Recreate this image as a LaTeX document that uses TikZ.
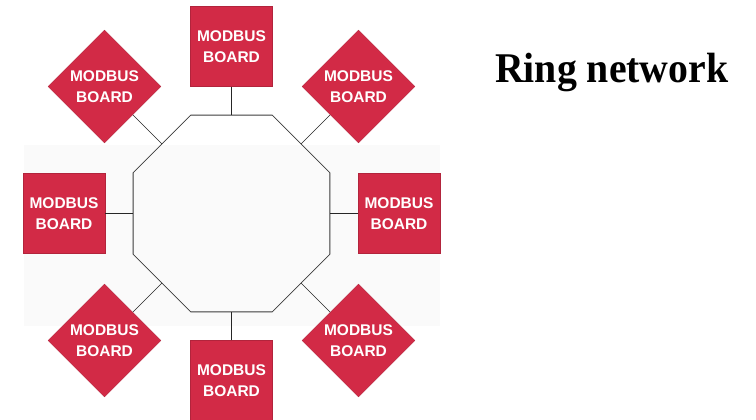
\documentclass[tikz,border=0pt]{standalone}
\usepackage{fontspec}
\usepackage{graphicx}
\newfontfamily\boardfont{Liberation Sans}
\newfontfamily\titlefont{Liberation Serif}
\usetikzlibrary{shapes.geometric}
\definecolor{mbred}{RGB}{210,42,70}
\definecolor{ringgray}{RGB}{60,60,60}

\begin{document}
\begin{tikzpicture}[x=1pt,y=1pt,every node/.style={align=center},
    board/.style={draw=mbred!85!black,line width=0.4pt,fill=mbred,text=white,inner sep=0pt,font=\boardfont\bfseries\fontsize{15.5}{21.5}\selectfont},
    boardbox/.style={board,rectangle,minimum width=82pt,minimum height=80pt},
    boarddia/.style={board,diamond,minimum size=113pt},
    link/.style={line width=0.7pt,black!85}]
    \useasboundingbox (0,0) rectangle (756,-420);
    \fill[black!2] (24,-145) rectangle (440,-326);
    \node[draw=ringgray,line width=0.8pt,regular polygon,regular polygon sides=8,minimum size=213pt,inner sep=0pt,outer sep=0pt] (ring) at (231.5,-213.5) {};
    \node[boardbox] (n) at (231.5,-46.5) {MODBUS\\BOARD};
    \node[boardbox] (s) at (231.5,-380.5) {MODBUS\\BOARD};
    \node[boardbox] (w) at (64,-213.5) {MODBUS\\BOARD};
    \node[boardbox] (e) at (399,-213.5) {MODBUS\\BOARD};
    \node[boarddia] (nw) at (104.5,-86.5) {MODBUS\\BOARD};
    \node[boarddia] (ne) at (358.5,-86.5) {MODBUS\\BOARD};
    \node[boarddia] (sw) at (104.5,-340.5) {MODBUS\\BOARD};
    \node[boarddia] (se) at (358.5,-340.5) {MODBUS\\BOARD};
    \draw[link] (n)--(ring);
    \draw[link] (s)--(ring);
    \draw[link] (w)--(ring);
    \draw[link] (e)--(ring);
    \draw[link] (nw)--(ring);
    \draw[link] (ne)--(ring);
    \draw[link] (sw)--(ring);
    \draw[link] (se)--(ring);
    \node[anchor=base west,inner sep=0pt] (title) at (495,-83) {\titlefont\bfseries\fontsize{42.3}{42.3}\selectfont\scalebox{0.94}[1]{Ring network}};
  \end{tikzpicture}
\end{document}
